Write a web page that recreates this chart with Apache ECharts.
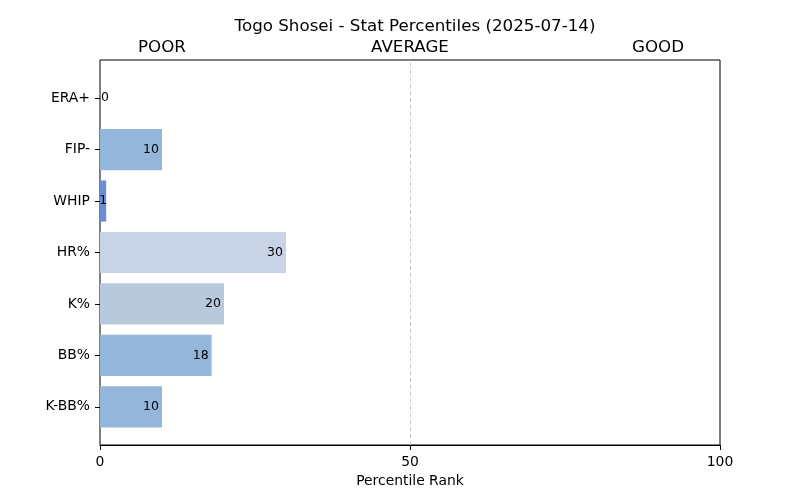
<!DOCTYPE html>
<html>
<head>
<meta charset="utf-8">
<script src="https://cdn.jsdelivr.net/npm/echarts@6/dist/echarts.min.js"></script>
<style>
  html, body { margin: 0; padding: 0; background: #fff; }
  #chart { width: 800px; height: 500px; }
</style>
</head>
<body>
<div id="chart"></div>
<script>
// stats, top to bottom
const stats = ['ERA+', 'FIP-', 'WHIP', 'HR%', 'K%', 'BB%', 'K-BB%'];
const percentiles = [0, 10, 1, 30, 20, 18, 10];
const barColors = ['#93b6da', '#93b6da', '#6a8ed6', '#c8d4e6', '#b8c9dc', '#93b6da', '#93b6da'];
const xTicks = [0, 50, 100];
const zoneLabels = { 10: 'POOR', 50: 'AVERAGE', 90: 'GOOD' };

const FONT = 'DejaVu Sans';

const chart = echarts.init(document.getElementById('chart'), null, { renderer: 'canvas' });

const barData = percentiles.map((v, i) => {
  const item = { value: v, itemStyle: { color: barColors[i] } };
  // tiny bars: put the number at the bar end instead of inside
  if (v < 2) {
    item.label = v === 0
      ? { position: 'right', distance: 1 }
      : { position: 'insideRight', distance: 0, offset: [1, 0] };
  }
  return item;
});

// frame grid (0) and a slightly inset grid (1) for the bars,
// like matplotlib's 5% margins around the bar extent
const FRAME = { left: 100, right: 80, top: 60, bottom: 55 };
const INSET = 12.4;

const option = {
  animation: false,
  textStyle: { fontFamily: FONT },
  title: {
    text: 'Togo Shosei - Stat Percentiles (2025-07-14)',
    left: 410,
    top: 13,
    textAlign: 'center',
    textStyle: { fontFamily: FONT, fontSize: 16.7, fontWeight: 'normal', color: '#000' }
  },
  grid: [
    Object.assign({ show: true, borderColor: '#000', borderWidth: 1, backgroundColor: 'transparent' }, FRAME),
    { left: FRAME.left, right: FRAME.right, top: FRAME.top + INSET, bottom: FRAME.bottom + INSET }
  ],
  xAxis: [
    {
      gridIndex: 0,
      type: 'value', min: 0, max: 100, interval: 50,
      position: 'bottom',
      name: 'Percentile Rank', nameLocation: 'middle', nameGap: 28,
      nameTextStyle: { fontFamily: FONT, fontSize: 13.9, color: '#000' },
      axisLine: { show: true, lineStyle: { color: '#000' } },
      axisTick: { show: true, length: 5, lineStyle: { color: '#000' } },
      axisLabel: {
        fontFamily: FONT, fontSize: 13.9, color: '#000', margin: 10,
        formatter: v => xTicks.includes(v) ? String(v) : ''
      },
      splitLine: { show: false }
    },
    {
      gridIndex: 0,
      type: 'value', min: 0, max: 100, interval: 10,
      position: 'top',
      axisLine: { show: false },
      axisTick: { show: false },
      axisLabel: {
        fontFamily: FONT, fontSize: 16.7, color: '#000', margin: 4,
        formatter: v => zoneLabels[v] || ''
      },
      splitLine: { show: false }
    },
    {
      gridIndex: 1,
      type: 'value', min: 0, max: 100,
      show: false
    }
  ],
  yAxis: [
    {
      gridIndex: 0,
      type: 'value', min: 0, max: 1,
      show: false
    },
    {
      gridIndex: 1,
      type: 'category',
      data: stats,
      inverse: true,
      axisLine: { show: false },
      axisTick: { show: true, alignWithLabel: true, length: 5, lineStyle: { color: '#000' } },
      axisLabel: { fontFamily: FONT, fontSize: 13.9, color: '#000', margin: 10 }
    }
  ],
  series: [
    {
      // carries only the dashed 50 line across the full frame
      type: 'line',
      xAxisIndex: 0,
      yAxisIndex: 0,
      data: [],
      markLine: {
        silent: true,
        symbol: 'none',
        label: { show: false },
        lineStyle: { color: '#c8c8c8', type: [4, 3], width: 1 },
        data: [{ xAxis: 50 }]
      }
    },
    {
      type: 'bar',
      xAxisIndex: 2,
      yAxisIndex: 1,
      data: barData,
      barWidth: '80%',
      label: {
        show: true,
        position: 'insideRight',
        distance: 3,
        fontFamily: FONT,
        fontSize: 12.5,
        color: '#000'
      }
    }
  ]
};

chart.setOption(option);
</script>
</body>
</html>
